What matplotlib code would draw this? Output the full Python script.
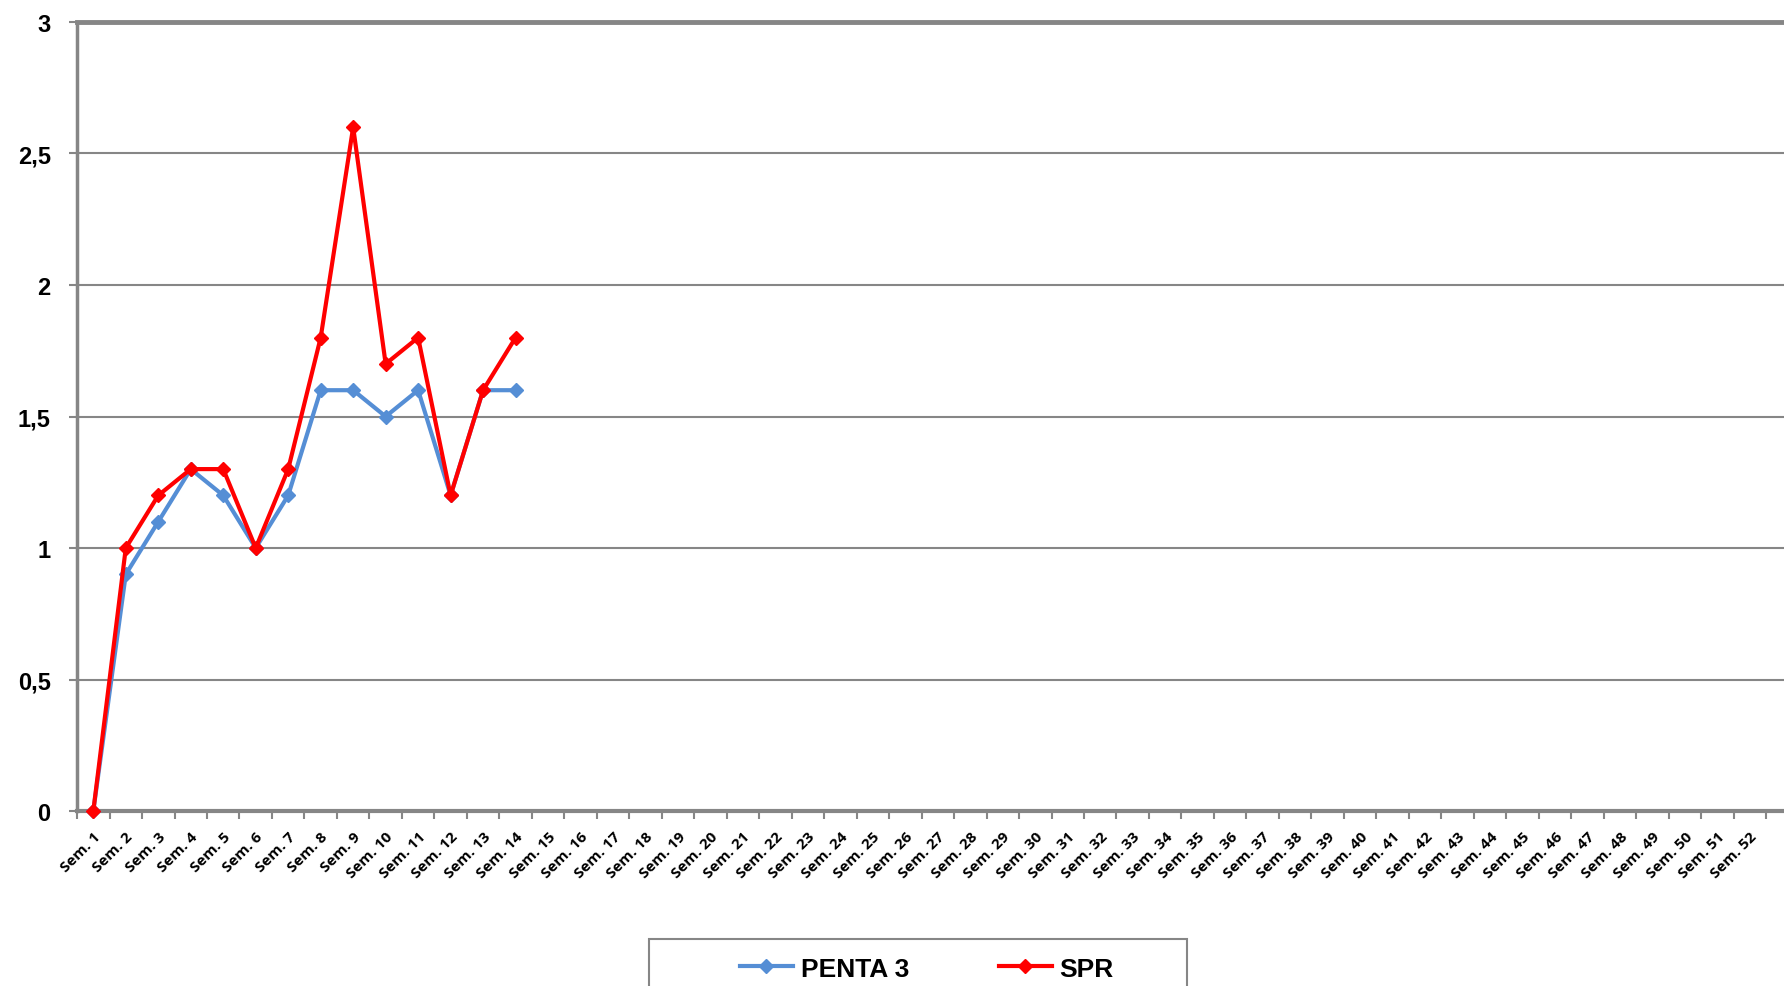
import numpy as np
import matplotlib
matplotlib.use("Agg")
import matplotlib.pyplot as plt
from matplotlib.patches import Rectangle
from matplotlib.ticker import FixedLocator, FuncFormatter

# data
weeks = [f"Sem. {i}" for i in range(1, 53)]
penta3 = [0, 0.9, 1.1, 1.3, 1.2, 1.0, 1.2, 1.6, 1.6, 1.5, 1.6, 1.2, 1.6, 1.6]
spr = [0, 1.0, 1.2, 1.3, 1.3, 1.0, 1.3, 1.8, 2.6, 1.7, 1.8, 1.2, 1.6, 1.8]
yticks = [0, 0.5, 1, 1.5, 2, 2.5, 3]

blue = "#558ED5"
red = "#FF0000"
grey = "#868686"

fig = plt.figure(figsize=(17.84, 9.87), dpi=100)
ax = fig.add_axes([0.0432, 0.1773, 0.9568, 0.7994])

x = np.arange(len(weeks))
ax.plot(x[:len(penta3)], penta3, color=blue, lw=3, marker="D", ms=7.5,
        label="PENTA 3", zorder=3, clip_on=False)
ax.plot(x[:len(spr)], spr, color=red, lw=3, marker="D", ms=7.5,
        label="SPR", zorder=4, clip_on=False)

ax.set_xlim(-0.5, 52.05)
ax.set_ylim(0, 3)

# y axis
ax.set_yticks(yticks)
ax.yaxis.set_major_formatter(FuncFormatter(lambda v, p: f"{v:g}".replace(".", ",")))
ax.yaxis.grid(True, color=grey, lw=1.5)
ax.set_axisbelow(True)
ax.tick_params(axis="y", length=6, width=1.5, color=grey, pad=13)
for lab in ax.get_yticklabels():
    lab.set_fontfamily("Liberation Sans")
    lab.set_fontweight("bold")
    lab.set_fontsize(17)

# x axis: labels at category centres, tick marks at boundaries
ax.set_xticks(x)
ax.set_xticklabels(weeks, rotation=45, ha="right", va="top",
                   rotation_mode="anchor", fontsize=11, fontweight="bold",
                   family="Open Sans")
ax.xaxis.set_minor_locator(FixedLocator(np.arange(-0.5, 52, 1)))
ax.tick_params(axis="x", which="major", length=0, pad=13)
ax.tick_params(axis="x", which="minor", length=6, width=1.5, color=grey)

for side in ["left", "bottom", "top"]:
    ax.spines[side].set_color(grey)
ax.spines["left"].set_linewidth(2.5)
ax.spines["bottom"].set_linewidth(3)
ax.spines["top"].set_linewidth(3.5)
ax.spines["right"].set_visible(False)

# legend without its own frame, box drawn separately (wider than the entries)
leg = fig.legend(loc="center", bbox_to_anchor=(0.5196, 0.0175), ncol=2,
                 frameon=False, handlelength=2.0, handletextpad=0.3,
                 columnspacing=3.4,
                 prop={"family": "Liberation Sans", "weight": "bold", "size": 19})
fig.patches.append(Rectangle((649 / 1784, -0.05), (1187 - 649) / 1784,
                             0.05 + 47 / 987, transform=fig.transFigure,
                             facecolor="white", edgecolor=grey, lw=1.5,
                             zorder=-1))

fig.savefig("out.png", dpi=100)
